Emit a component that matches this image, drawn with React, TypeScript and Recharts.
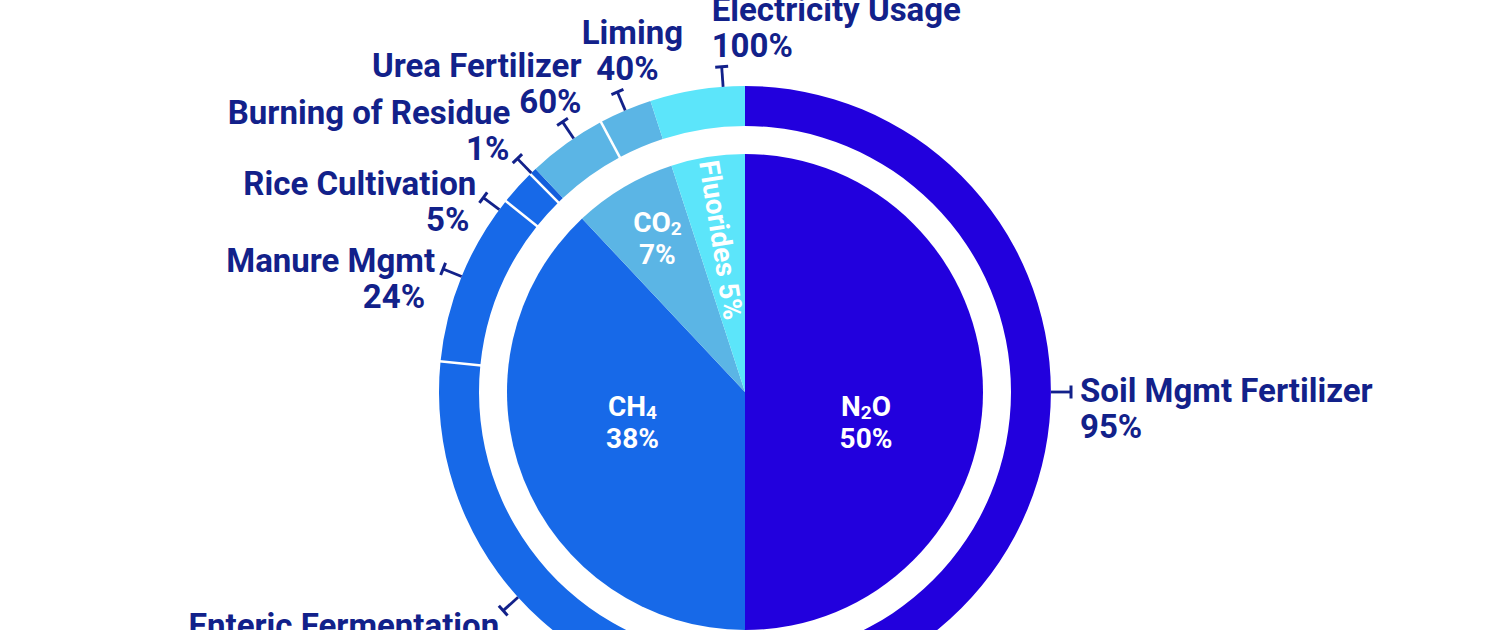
import React from 'react';
import { PieChart, Pie, Cell } from 'recharts';

// ---- data ----
const gasNames = ['N2O', 'CH4', 'CO2', 'Fluorides'];
const gasShares = [50, 38, 7, 5];
const gasColors = ['#2200DD', '#1769E8', '#5BB5E5', '#5CE5FA'];

const sourceNames = [
  'Soil Mgmt Fertilizer',
  'Enteric Fermentation',
  'Manure Mgmt',
  'Rice Cultivation',
  'Burning of Residue',
  'Urea Fertilizer',
  'Liming',
  'Electricity Usage',
];
const sourceGas = [0, 1, 1, 1, 1, 2, 2, 3];
const sourceShares = [50, 26.6, 9.12, 1.9, 0.38, 4.2, 2.8, 5];
const sourcePctLabels = ['95%', '70%', '24%', '5%', '1%', '60%', '40%', '100%'];
const sourceColors = ['#2200DD', '#1769E8', '#1769E8', '#1769E8', '#135EDC', '#5BB5E5', '#5BB5E5', '#5CE5FA'];

const innerData = gasNames.map((name, i) => ({ name, value: gasShares[i] }));
const outerData = sourceNames.map((name, i) => ({
  name,
  value: sourceShares[i],
  pct: sourcePctLabels[i],
  gas: sourceGas[i],
}));

// ---- layout / style ----
const CX = 745;
const CY = 392;
const RAD = Math.PI / 180;
const TEXT = '#12218A';
const FONT = 'Roboto, sans-serif';
const LINE = 36;

// per label: angle nudge (deg), anchor, x offsets of both lines, baseline of first line relative to tick end
const labelLayout: { nudge: number; anchor: 'start' | 'end' | 'middle'; dx1: number; dx2: number; dy1: number }[] = [
  { nudge: 0, anchor: 'start', dx1: 9, dx2: 9, dy1: 10 },
  { nudge: 0, anchor: 'end', dx1: -4, dx2: -4, dy1: 26 },
  { nudge: 0, anchor: 'end', dx1: -8, dx2: -18, dy1: 3 },
  { nudge: 5.4, anchor: 'end', dx1: -7, dx2: -14, dy1: -3 },
  { nudge: 0.4, anchor: 'end', dx1: -7, dx2: -8, dy1: -35 },
  { nudge: -1.6, anchor: 'end', dx1: 19, dx2: 19, dy1: -45 },
  { nudge: 0, anchor: 'middle', dx1: 15, dx2: 10, dy1: -48 },
  { nudge: -4.9, anchor: 'start', dx1: -10, dx2: -10, dy1: -46 },
];

const formula = (s: string, sub: number) => {
  const parts = s.split(/(\d+)/).filter((p) => p.length > 0);
  return parts.map((p, k) =>
    /^\d+$/.test(p) ? (
      <tspan key={k} fontSize={sub} baselineShift={-3}>
        {p}
      </tspan>
    ) : (
      <tspan key={k}>{p}</tspan>
    )
  );
};

const renderInnerLabel = (props: any) => {
  const { cx, cy, midAngle, index, percent } = props;
  const a = midAngle * RAD;
  const name = gasNames[index];
  const pct = `${gasShares[index]}%`;
  const common = { fill: '#fff', fontFamily: FONT, fontWeight: 700, fontSize: 28 };
  if (percent > 0.2) {
    const x = cx + 121 * Math.cos(a);
    return (
      <g key={`il-${index}`}>
        <text x={x} y={cy + 24} textAnchor="middle" {...common}>
          {formula(name, 19)}
        </text>
        <text x={x} y={cy + 56} textAnchor="middle" {...common}>
          {pct}
        </text>
      </g>
    );
  }
  if (percent > 0.06) {
    const x = cx + 172 * Math.cos(a);
    const y = cy - 172 * Math.sin(a);
    return (
      <g key={`il-${index}`}>
        <text x={x} y={y - 12} textAnchor="middle" {...common}>
          {formula(name, 19)}
        </text>
        <text x={x} y={y + 20} textAnchor="middle" {...common}>
          {pct}
        </text>
      </g>
    );
  }
  const x = cx + 154 * Math.cos(a);
  const y = cy - 154 * Math.sin(a);
  const rot = 180 - midAngle;
  return (
    <text
      key={`il-${index}`}
      x={x}
      y={y}
      textAnchor="middle"
      dominantBaseline="central"
      transform={`rotate(${rot} ${x} ${y})`}
      {...common}
    >
      {`${name} ${pct}`}
    </text>
  );
};

const renderOuterLabel = (props: any) => {
  const { cx, cy, midAngle, innerRadius, outerRadius, startAngle, index } = props;
  const lay = labelLayout[index];
  const items: React.ReactNode[] = [];
  // white separator inside a gas group
  if (index > 0 && sourceGas[index] === sourceGas[index - 1]) {
    const s = startAngle * RAD;
    items.push(
      <line
        key="sep"
        x1={cx + (innerRadius - 1) * Math.cos(s)}
        y1={cy - (innerRadius - 1) * Math.sin(s)}
        x2={cx + (outerRadius + 1) * Math.cos(s)}
        y2={cy - (outerRadius + 1) * Math.sin(s)}
        stroke="#fff"
        strokeWidth={2.5}
      />
    );
  }
  const a = (midAngle + lay.nudge) * RAD;
  const ux = Math.cos(a);
  const uy = -Math.sin(a);
  const x0 = cx + outerRadius * ux;
  const y0 = cy + outerRadius * uy;
  const x1 = cx + (outerRadius + 20) * ux;
  const y1 = cy + (outerRadius + 20) * uy;
  const px = -uy;
  const py = ux;
  items.push(
    <line key="tick" x1={x0} y1={y0} x2={x1} y2={y1} stroke={TEXT} strokeWidth={2.8} />,
    <line
      key="cap"
      x1={x1 - 6.5 * px}
      y1={y1 - 6.5 * py}
      x2={x1 + 6.5 * px}
      y2={y1 + 6.5 * py}
      stroke={TEXT}
      strokeWidth={3}
    />
  );
  const common = { fill: TEXT, fontFamily: FONT, fontWeight: 700, fontSize: 33, textAnchor: lay.anchor };
  items.push(
    <text key="t1" x={x1 + lay.dx1} y={y1 + lay.dy1} {...common}>
      {sourceNames[index]}
    </text>,
    <text key="t2" x={x1 + lay.dx2} y={y1 + lay.dy1 + LINE} {...common}>
      {sourcePctLabels[index]}
    </text>
  );
  return <g key={`ol-${index}`}>{items}</g>;
};

export default function App() {
  return (
    <div style={{ position: 'absolute', left: 0, top: 0, width: 1500, height: 630, background: '#fff' }}>
      <PieChart width={1500} height={630} margin={{ top: 0, right: 0, bottom: 0, left: 0 }}>
        <Pie
          data={innerData}
          dataKey="value"
          nameKey="name"
          cx={CX}
          cy={CY}
          innerRadius={0}
          outerRadius={238}
          startAngle={90}
          endAngle={-270}
          stroke="none"
          label={renderInnerLabel}
          labelLine={false}
          isAnimationActive={false}
        >
          {innerData.map((d, i) => (
            <Cell key={d.name} fill={gasColors[i]} stroke="none" />
          ))}
        </Pie>
        <Pie
          data={outerData}
          dataKey="value"
          nameKey="name"
          cx={CX}
          cy={CY}
          innerRadius={266}
          outerRadius={306}
          startAngle={90}
          endAngle={-270}
          stroke="none"
          label={renderOuterLabel}
          labelLine={false}
          isAnimationActive={false}
        >
          {outerData.map((d, i) => (
            <Cell key={d.name} fill={sourceColors[i]} stroke="none" />
          ))}
        </Pie>
      </PieChart>
    </div>
  );
}
